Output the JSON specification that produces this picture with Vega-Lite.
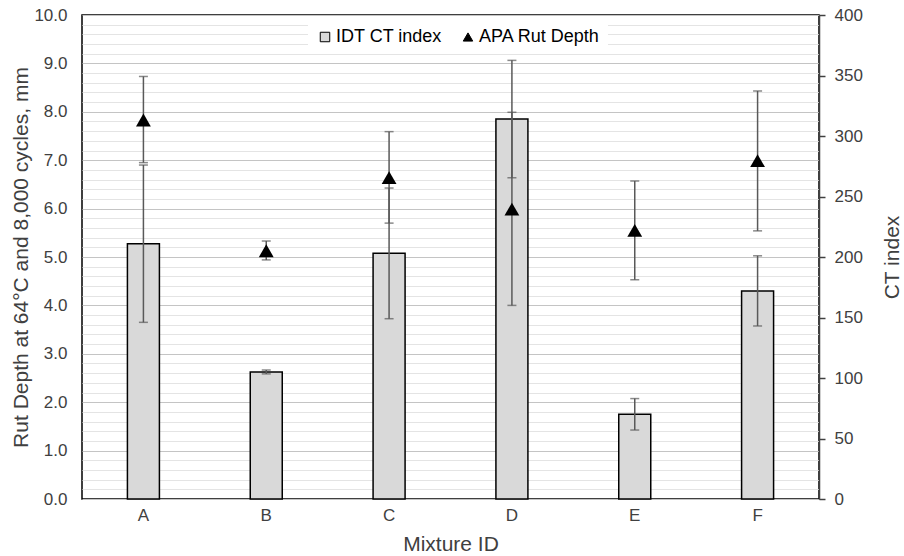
{
  "$schema": "https://vega.github.io/schema/vega-lite/v6.json",
  "width": 737,
  "height": 484,
  "autosize": "none",
  "padding": {"left": 82, "top": 15, "right": 85, "bottom": 57},
  "background": "white",
  "config": {
    "font": "Liberation Sans",
    "view": {"stroke": "black", "strokeWidth": 1.5},
    "axis": {
      "labelFont": "Liberation Sans",
      "titleFont": "Liberation Sans",
      "labelFontSize": 17,
      "titleFontSize": 21,
      "labelColor": "#404040",
      "titleColor": "#404040",
      "titleFontWeight": "normal",
      "labelOverlap": false
    },
    "legend": {"labelFont": "Liberation Sans"}
  },
  "data": {
    "values": [
      {"mix": "A", "ct": 211, "ct_lo": 146, "ct_hi": 276, "rut": 7.83, "rut_lo": 6.95, "rut_hi": 8.73},
      {"mix": "B", "ct": 105, "ct_lo": 103.4, "ct_hi": 106.6, "rut": 5.13, "rut_lo": 4.94, "rut_hi": 5.33},
      {"mix": "C", "ct": 203, "ct_lo": 149, "ct_hi": 257, "rut": 6.64, "rut_lo": 5.70, "rut_hi": 7.59},
      {"mix": "D", "ct": 314, "ct_lo": 265.5, "ct_hi": 362.5, "rut": 5.99, "rut_lo": 4.0, "rut_hi": 7.99},
      {"mix": "E", "ct": 70, "ct_lo": 57, "ct_hi": 83, "rut": 5.55, "rut_lo": 4.53, "rut_hi": 6.57},
      {"mix": "F", "ct": 172, "ct_lo": 143, "ct_hi": 201, "rut": 6.99, "rut_lo": 5.54, "rut_hi": 8.43}
    ]
  },
  "encoding": {
    "x": {
      "field": "mix",
      "type": "nominal",
      "scale": {"paddingInner": 0, "paddingOuter": 0},
      "axis": {
        "labelAngle": 0,
        "ticks": false,
        "domain": false,
        "labelPadding": 8,
        "title": "Mixture ID",
        "titlePadding": 10
      }
    }
  },
  "layer": [
    {
      "layer": [
        {
          "mark": {"type": "bar", "width": 32, "fill": "#d9d9d9", "stroke": "black", "strokeWidth": 1.5},
          "encoding": {
            "y": {
              "field": "ct",
              "type": "quantitative",
              "scale": {"domain": [0, 400], "nice": false},
              "axis": {
                "orient": "right",
                "values": [0, 50, 100, 150, 200, 250, 300, 350, 400],
                "tickCount": 9,
                "grid": false,
                "ticks": true,
                "tickSize": 6,
                "tickColor": "#404040",
                "tickWidth": 1.5,
                "domain": true,
                "domainColor": "#404040",
                "domainWidth": 1.5,
                "labelPadding": 9,
                "title": "CT index",
                "titleAngle": 270,
                "titleBaseline": "top",
                "titlePadding": 19
              }
            }
          }
        },
        {
          "mark": {"type": "rule", "color": "#595959", "strokeWidth": 1.5},
          "encoding": {
            "y": {"field": "ct_lo", "type": "quantitative"},
            "y2": {"field": "ct_hi"}
          }
        },
        {
          "mark": {"type": "tick", "orient": "horizontal", "size": 9, "thickness": 1.5, "color": "#595959"},
          "encoding": {"y": {"field": "ct_lo", "type": "quantitative"}}
        },
        {
          "mark": {"type": "tick", "orient": "horizontal", "size": 9, "thickness": 1.5, "color": "#595959"},
          "encoding": {"y": {"field": "ct_hi", "type": "quantitative"}}
        }
      ]
    },
    {
      "layer": [
        {
          "mark": {"type": "rule", "color": "#595959", "strokeWidth": 1.5},
          "encoding": {
            "y": {
              "field": "rut_lo",
              "type": "quantitative",
              "scale": {"domain": [0, 10], "nice": false},
              "axis": {
                "orient": "left",
                "values": [0, 0.2, 0.4, 0.6, 0.8, 1, 1.2, 1.4, 1.6, 1.8, 2, 2.2, 2.4, 2.6, 2.8, 3, 3.2, 3.4, 3.6, 3.8, 4, 4.2, 4.4, 4.6, 4.8, 5, 5.2, 5.4, 5.6, 5.8, 6, 6.2, 6.4, 6.6, 6.8, 7, 7.2, 7.4, 7.6, 7.8, 8, 8.2, 8.4, 8.6, 8.8, 9, 9.2, 9.4, 9.6, 9.8, 10],
                "tickCount": 100,
                "labelExpr": "abs(datum.value - round(datum.value)) < 0.001 ? format(datum.value, '.1f') : ''",
                "labelOverlap": false,
                "ticks": false,
                "domain": false,
                "grid": true,
                "gridColor": {"condition": {"test": "abs(datum.value - round(datum.value)) < 0.001", "value": "#c4c4c4"}, "value": "#e4e4e4"},
                "gridWidth": 1,
                "labelPadding": 15,
                "title": "Rut Depth at 64°C and 8,000 cycles, mm",
                "titlePadding": 2
              }
            },
            "y2": {"field": "rut_hi"}
          }
        },
        {
          "mark": {"type": "tick", "orient": "horizontal", "size": 9, "thickness": 1.5, "color": "#595959"},
          "encoding": {"y": {"field": "rut_lo", "type": "quantitative"}}
        },
        {
          "mark": {"type": "tick", "orient": "horizontal", "size": 9, "thickness": 1.5, "color": "#595959"},
          "encoding": {"y": {"field": "rut_hi", "type": "quantitative"}}
        },
        {
          "mark": {"type": "point", "filled": true, "size": 220, "opacity": 1},
          "encoding": {
            "y": {"field": "rut", "type": "quantitative"},
            "shape": {
              "datum": "APA Rut Depth",
              "type": "nominal",
              "scale": {"domain": ["IDT CT index", "APA Rut Depth"], "range": ["square", "triangle-up"]},
              "legend": {
                "orient": "none",
                "legendX": 226,
                "legendY": 5,
                "direction": "horizontal",
                "title": null,
                "fillColor": "white",
                "padding": 8,
                "labelFontSize": 18,
                "labelColor": "#000000",
                "symbolSize": 90,
                "symbolStrokeColor": "black",
                "symbolStrokeWidth": 1,
                "columnPadding": 16,
                "labelOffset": 2
              }
            },
            "color": {
              "datum": "APA Rut Depth",
              "type": "nominal",
              "scale": {"domain": ["IDT CT index", "APA Rut Depth"], "range": ["#d9d9d9", "#000000"]},
              "legend": {
                "orient": "none",
                "legendX": 226,
                "legendY": 5,
                "direction": "horizontal",
                "title": null,
                "fillColor": "white",
                "padding": 8,
                "labelFontSize": 18,
                "labelColor": "#000000",
                "symbolSize": 90,
                "symbolStrokeColor": "black",
                "symbolStrokeWidth": 1,
                "columnPadding": 16,
                "labelOffset": 2
              }
            }
          }
        }
      ]
    }
  ],
  "resolve": {"scale": {"y": "independent"}}
}
